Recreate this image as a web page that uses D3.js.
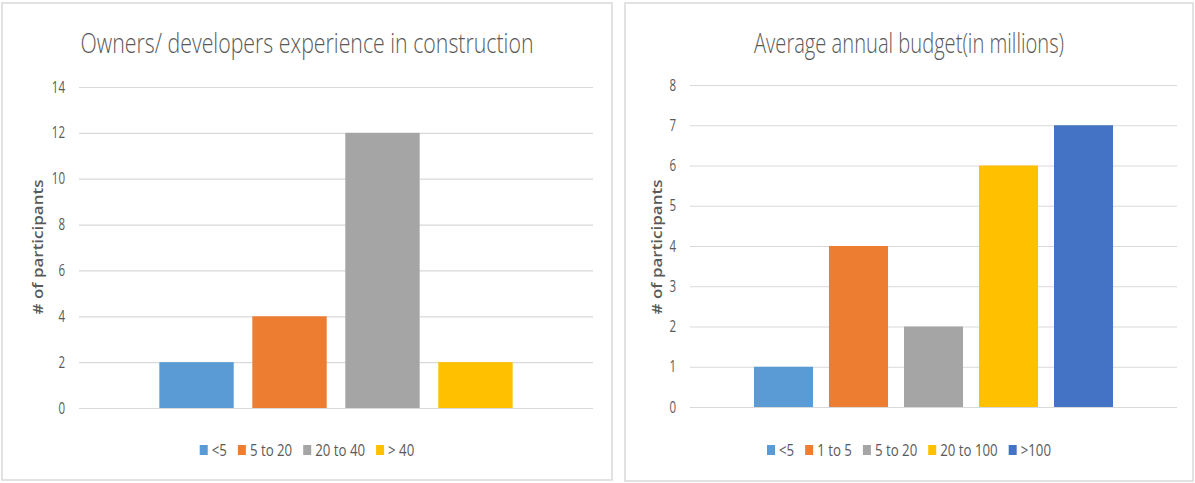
<!DOCTYPE html>
<html lang="en">
<head>
  <meta charset="utf-8">
  <title>Survey bar charts</title>
  <script src="https://cdnjs.cloudflare.com/ajax/libs/d3/7.8.5/d3.min.js"></script>
  <style>
    body { margin: 0; background: #fff; }
    text { font-family: "Open Sans", sans-serif; fill: #595959; }
  </style>
</head>
<body>
<div id="chart"></div>
<script>
// data
const expCategories = ["<5", "5 to 20", "20 to 40", "> 40"];
const expValues = [2, 4, 12, 2];
const expTicks = [0, 2, 4, 6, 8, 10, 12, 14];

const budgetCategories = ["<5", "1 to 5", "5 to 20", "20 to 100", ">100"];
const budgetValues = [1, 4, 2, 6, 7];
const budgetTicks = [0, 1, 2, 3, 4, 5, 6, 7, 8];

const palette = ["#5B9BD5", "#ED7D31", "#A5A5A5", "#FFC000", "#4472C4"];

const W = 1195, H = 483;
const SX = 0.72; // the screenshot is squeezed sideways, text follows it

const svg = d3.select("#chart").append("svg")
  .attr("width", W)
  .attr("height", H);

function drawPanel(o) {
  const g = svg.append("g");

  g.append("rect")
    .attr("x", o.box[0]).attr("y", o.box[1])
    .attr("width", o.box[2] - o.box[0]).attr("height", o.box[3] - o.box[1])
    .attr("fill", "#fff")
    .attr("stroke", "#d9d9d9")
    .attr("stroke-width", 1.5);

  const x = d3.scaleBand()
    .domain(o.cats)
    .range([o.plot[0], o.plot[2]])
    .paddingInner(o.padIn)
    .paddingOuter(o.padOut);

  const y = d3.scaleLinear()
    .domain([0, d3.max(o.ticks)])
    .range([o.plot[3], o.plot[1]]);

  const yAxis = g.append("g")
    .attr("transform", `translate(${o.plot[0]},0)`)
    .call(d3.axisLeft(y).tickValues(o.ticks).tickSize(-(o.plot[2] - o.plot[0])).tickFormat(d3.format("d")));
  yAxis.select(".domain").remove();
  yAxis.selectAll(".tick line").attr("stroke", "#d9d9d9").attr("stroke-width", 1.2);
  yAxis.selectAll(".tick text")
    .attr("x", null)
    .attr("transform", `translate(-14,0) scale(${SX},1)`)
    .style("font-size", "16px")
    .style("fill", "#595959");

  g.selectAll("rect.bar")
    .data(o.vals)
    .join("rect")
    .attr("class", "bar")
    .attr("x", (d, i) => x(o.cats[i]))
    .attr("y", d => y(d))
    .attr("width", x.bandwidth())
    .attr("height", d => y(0) - y(d))
    .attr("fill", (d, i) => palette[i]);

  const cx = (o.box[0] + o.box[2]) / 2;

  g.append("text")
    .attr("x", cx)
    .attr("y", 53)
    .attr("text-anchor", "middle")
    .attr("textLength", o.titleWidth)
    .attr("lengthAdjust", "spacingAndGlyphs")
    .style("font-size", "27px")
    .style("font-weight", 300)
    .text(o.title);

  g.append("text")
    .attr("transform", `translate(${o.yTitleX},247) scale(0.8,1) rotate(-90)`)
    .attr("text-anchor", "middle")
    .style("font-size", "17px")
    .style("font-weight", 600)
    .text("# of participants");

  // legend, centred on the panel
  const LX = 0.78;
  const leg = g.append("g");
  const items = leg.selectAll("g")
    .data(o.cats)
    .join("g");
  items.append("rect")
    .attr("y", 445)
    .attr("width", 8)
    .attr("height", 10)
    .attr("fill", (d, i) => palette[i]);
  items.append("text")
    .attr("transform", `translate(12,456) scale(${LX},1)`)
    .style("font-size", "17px")
    .text(d => d);
  let cur = 0;
  items.each(function() {
    const t = d3.select(this).select("text").node().getComputedTextLength() * LX;
    d3.select(this).attr("transform", `translate(${cur},0)`);
    cur += 12 + t + 11;
  });
  const legW = cur - 11;
  leg.attr("transform", `translate(${cx - legW / 2},0)`);
}

drawPanel({
  box: [2, 3, 612, 480],
  plot: [79, 87, 593, 408],
  cats: expCategories,
  vals: expValues,
  ticks: expTicks,
  padIn: 0.2,
  padOut: 0.864,
  title: "Owners/ developers experience in construction",
  titleWidth: 453,
  yTitleX: 43
});

drawPanel({
  box: [625, 3, 1193, 481],
  plot: [690, 85, 1177, 407],
  cats: budgetCategories,
  vals: budgetValues,
  ticks: budgetTicks,
  padIn: 0.213,
  padOut: 0.853,
  title: "Average annual budget(in millions)",
  titleWidth: 310,
  yTitleX: 662
});
</script>
</body>
</html>
